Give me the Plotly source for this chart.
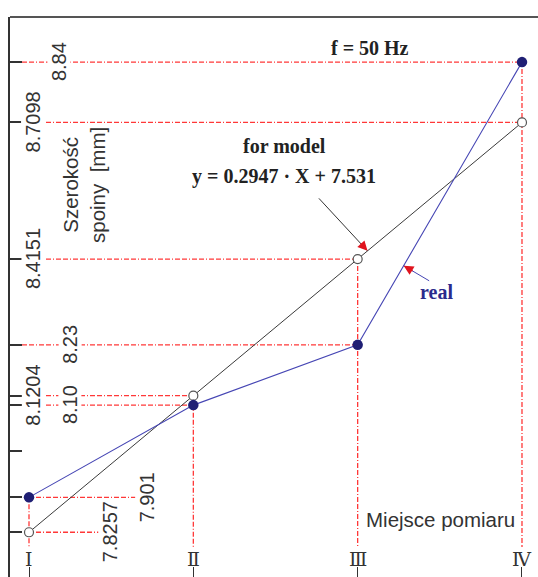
import plotly.graph_objects as go

# Measurement points along the weld
POINT_NAMES = ["Ⅰ", "Ⅱ", "Ⅲ", "Ⅳ"]
POINT_POS = [1, 2, 3, 4]

# Weld width [mm]: regression model and real measurements
MODEL = [7.8257, 8.1204, 8.4151, 8.7098]
REAL = [7.901, 8.10, 8.23, 8.84]
MODEL_LABELS = ["7.8257", "8.1204", "8.4151", "8.7098"]
REAL_LABELS = ["7.901", "8.10", "8.23", "8.84"]

# Regression coefficients of the model line
SLOPE = 0.2947
INTERCEPT = 7.531

# Unlabelled extra tick on the width axis
EXTRA_TICKS = [8.0]

W, H = 538, 577
ML, MT = 10, 17
PW, PH = W - ML, H - MT
X_RANGE = [0.8844, 4.0974]
Y_RANGE = [7.7292, 8.9373]


def px_x(px):
    return X_RANGE[0] + (px - ML) / PW * (X_RANGE[1] - X_RANGE[0])


def px_y(py):
    return Y_RANGE[1] - (py - MT) / PH * (Y_RANGE[1] - Y_RANGE[0])


def paper_x(px):
    return (px - ML) / PW


def paper_y(py):
    return (H - py) / PH


RED = "#ff3838"
DASH = "5px,2px,5px,2px,1px,2px"
TXT = "#333333"
NAVY = "#1f1f74"
BLUE = "#4646b4"

fig = go.Figure()

# red guide lines (drawn under the traces)
shapes = []
x_axis_start = px_x(22)
y_bottom = px_y(547)
label_x_model = [110, 33, 33, 33]
label_x_real = [147, 70, 70, 59]
for i, xp in enumerate(POINT_POS):
    top = max(MODEL[i], REAL[i])
    shapes.append(dict(type="line", xref="x", yref="y", x0=xp, x1=xp, y0=top, y1=y_bottom,
                       line=dict(color=RED, width=1.3, dash=DASH), layer="below"))
    for val, lx in ((MODEL[i], label_x_model[i]), (REAL[i], label_x_real[i])):
        if i == 0:
            x0, x1 = xp, px_x(lx)
        else:
            x0, x1 = x_axis_start, xp
        shapes.append(dict(type="line", xref="x", yref="y", x0=x0, x1=x1, y0=val, y1=val,
                           line=dict(color=RED, width=1.3, dash=DASH), layer="below"))

# top frame line
shapes.append(dict(type="line", xref="paper", yref="paper", x0=0, x1=1, y0=1, y1=1,
                   line=dict(color="#555555", width=2)))

fig.add_trace(go.Scatter(
    x=POINT_POS, y=MODEL, mode="lines+markers", name="model",
    line=dict(color="#3a3a3a", width=1),
    marker=dict(symbol="circle", size=9, color="white", line=dict(color="#555555", width=1.2)),
))
fig.add_trace(go.Scatter(
    x=POINT_POS, y=REAL, mode="lines+markers", name="real",
    line=dict(color=BLUE, width=1.1),
    marker=dict(symbol="circle", size=10.5, color=NAVY, line=dict(color=NAVY, width=0)),
))

annotations = []
tick_font = dict(family="Liberation Sans, Arial, sans-serif", size=20, color=TXT)
for i in range(4):
    for val, text, lx in ((MODEL[i], MODEL_LABELS[i], label_x_model[i]),
                          (REAL[i], REAL_LABELS[i], label_x_real[i])):
        annotations.append(dict(x=paper_x(lx), xref="paper", y=val, yref="y", text=text,
                                textangle=-90, showarrow=False, xanchor="center", yanchor="middle",
                                bgcolor="white", borderpad=0, font=tick_font))

# roman numerals under the measurement points
for xp, name in zip(POINT_POS, POINT_NAMES):
    annotations.append(dict(x=xp, xref="x", y=paper_y(559), yref="paper", text=name,
                            showarrow=False, xanchor="center", yanchor="middle",
                            font=dict(family="DejaVu Serif", size=19, color=TXT)))

# axis titles
annotations.append(dict(x=paper_x(84), xref="paper", y=paper_y(185), yref="paper",
                        text="Szerokość<br>spoiny\u00a0 [mm]", textangle=-90, showarrow=False,
                        xanchor="center", yanchor="middle",
                        font=dict(family="Liberation Sans, Arial, sans-serif", size=20.5, color=TXT)))
annotations.append(dict(x=paper_x(440), xref="paper", y=paper_y(519), yref="paper",
                        text="Miejsce pomiaru", showarrow=False, xanchor="center", yanchor="middle",
                        font=dict(family="Liberation Sans, Arial, sans-serif", size=20.5, color=TXT)))

serif = "Liberation Serif, Times New Roman, serif"
annotations.append(dict(x=paper_x(370), xref="paper", y=paper_y(48), yref="paper",
                        text="<b>f = 50 Hz</b>", showarrow=False, xanchor="center", yanchor="middle",
                        font=dict(family=serif, size=20, color="#222222")))
annotations.append(dict(x=paper_x(284), xref="paper", y=paper_y(146), yref="paper",
                        text="<b>for model</b>", showarrow=False, xanchor="center", yanchor="middle",
                        font=dict(family=serif, size=20, color="#222222")))
annotations.append(dict(x=paper_x(284), xref="paper", y=paper_y(176), yref="paper",
                        text=f"<b>y = {SLOPE} · X + {INTERCEPT}</b>", showarrow=False,
                        xanchor="center", yanchor="middle",
                        font=dict(family=serif, size=20, color="#222222")))
annotations.append(dict(x=paper_x(436), xref="paper", y=paper_y(292), yref="paper",
                        text="<b>real</b>", showarrow=False, xanchor="center", yanchor="middle",
                        font=dict(family=serif, size=20, color="#2b2b8c")))

# pointer arrows: thin shaft with a red head
model_tip_x = 3.06
model_tip_y = SLOPE * model_tip_x + INTERCEPT
t = 0.28
real_tip_x = 3 + t
real_tip_y = REAL[2] + t * (REAL[3] - REAL[2])
for tx, ty, ax, ay, shaft in ((model_tip_x, model_tip_y, -50, -54, "#333333"),
                              (real_tip_x, real_tip_y, 27, 16, BLUE)):
    annotations.append(dict(x=tx, y=ty, xref="x", yref="y", ax=ax, ay=ay, text="",
                            showarrow=True, arrowhead=0, arrowwidth=1, arrowcolor=shaft, standoff=0))
    scale = 12.0 / (ax * ax + ay * ay) ** 0.5
    annotations.append(dict(x=tx, y=ty, xref="x", yref="y", ax=ax * scale, ay=ay * scale, text="",
                            showarrow=True, arrowhead=2, arrowsize=1.3, arrowwidth=1.5,
                            arrowcolor="#e0141e", standoff=0))

fig.update_layout(
    width=W, height=H,
    margin=dict(l=ML, r=0, t=MT, b=0),
    paper_bgcolor="white", plot_bgcolor="white",
    showlegend=False,
    shapes=shapes, annotations=annotations,
    xaxis=dict(range=X_RANGE, tickvals=POINT_POS, ticks="inside", ticklen=10, tickwidth=1.2,
               tickcolor="#333333", showticklabels=False, showgrid=False, zeroline=False,
               showline=False, fixedrange=True),
    yaxis=dict(range=Y_RANGE, tickvals=MODEL + REAL + EXTRA_TICKS, ticks="inside", ticklen=12,
               tickwidth=1.5, tickcolor="#333333", showticklabels=False, showgrid=False,
               zeroline=False, showline=True, linecolor="#333333", linewidth=1.5,
               fixedrange=True),
)

fig.write_html("out.html", config={"displayModeBar": False})
